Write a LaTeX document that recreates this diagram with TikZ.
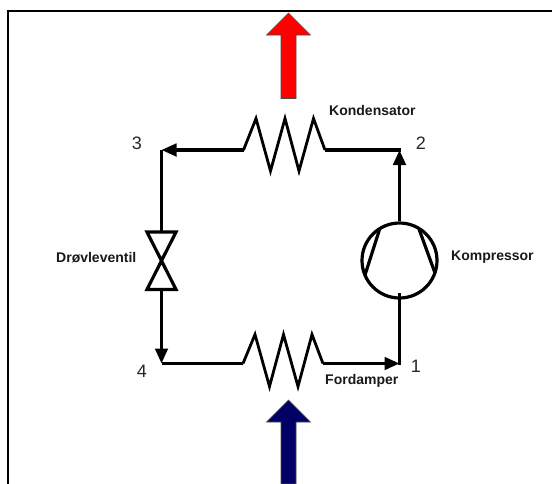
\documentclass[tikz,border=0pt]{standalone}
\usepackage{fontspec}
\setmainfont{Liberation Sans}
\usetikzlibrary{arrows.meta}
\tikzset{
  x=1pt,y=-1pt,
  pipe/.style={line width=3.2pt,line join=miter},
  coil/.style={line width=2.8pt,line join=miter},
  flowtip/.style={-{Triangle[length=15pt,width=12.5pt]}},
  bigarrow/.style={draw=black!70,line width=0.6pt,line join=miter},
  lbl/.style={font=\bfseries\fontsize{14}{16}\selectfont,inner sep=0pt,text=black!90},
  num/.style={font=\fontsize{18}{20}\selectfont,inner sep=0pt,text=black!85},
}
\begin{document}
\begin{tikzpicture}
\useasboundingbox (0,0) rectangle (552,483);
\fill[white] (0,0) rectangle (552,483);
% frame: top and left sides only are visible
\draw[line width=2.4pt] (8,484) -- (8,11) -- (553,11);
% heat arrows
\filldraw[bigarrow,fill=red] (281,98.5) -- (281,35) -- (266.5,35) -- (288.5,13) -- (310.5,35) -- (296,35) -- (296,98.5) -- cycle;
\filldraw[bigarrow,fill={rgb,255:red,0;green,0;blue,102}] (281,484) -- (281,422) -- (266.5,422) -- (288.5,400) -- (310.5,422) -- (296,422) -- (296,484) -- cycle;
% named points
\coordinate (p2) at (399.5,150);
\coordinate (p3) at (161.5,150);
\coordinate (p4) at (161.5,363.5);
\coordinate (p1) at (399.5,363.5);
\coordinate (kin) at (243.5,150);
\coordinate (kout) at (325,150);
\coordinate (fin) at (243,363.5);
\coordinate (fout) at (323,363.5);
\node[circle,draw,line width=3.2pt,minimum size=75pt,inner sep=0pt] (comp) at (399.5,260.5) {};
\coordinate (vtop) at (161.5,232);
\coordinate (vbot) at (161.5,289.5);
% condenser
\draw[coil] (kin) -- (256,118.5) -- (270.5,171) -- (285,118.5) -- (299,171) -- (313.5,118.5) -- (kout);
\draw[pipe] (kout) -- ([xshift=1.6pt]p2);
\draw[pipe,flowtip] (kin) -- (p3);
% evaporator
\draw[coil] (fin) -- (255,334.5) -- (269.5,386.5) -- (283.5,334.5) -- (298,386.5) -- (312,334.5) -- (fout);
\draw[pipe,flowtip] (fout) -- (p1);
\draw[pipe] (p4) -- (fin);
% compressor lines
\draw[pipe] (399.5,293) -- ([yshift=-1.6pt]p1);
\draw[pipe,flowtip] (comp.north) -- (p2);
\draw[pipe] (380,228) -- (365,275);
\draw[pipe] (419,229) -- (435,273);
% valve
\draw[pipe] (p3) -- (vtop);
\draw[pipe] (147,232) -- (176,232) -- (147,289.5) -- (176,289.5) -- cycle;
\draw[pipe,flowtip] (vbot) -- (p4);
% labels
\node[lbl,anchor=west] (lk) at (329,110) {Kondensator};
\node[lbl,anchor=west] (lm) at (451,257) {Kompressor};
\node[lbl,anchor=west] (ld) at (56,258) {Drøvleventil};
\node[lbl,anchor=west] (lf) at (325,381) {Fordamper};
\node[num] (n3) at (137,143) {3};
\node[num] (n2) at (421,143) {2};
\node[num] (n4) at (142,371) {4};
\node[num] (n1) at (416,366) {1};
\end{tikzpicture}
\end{document}
